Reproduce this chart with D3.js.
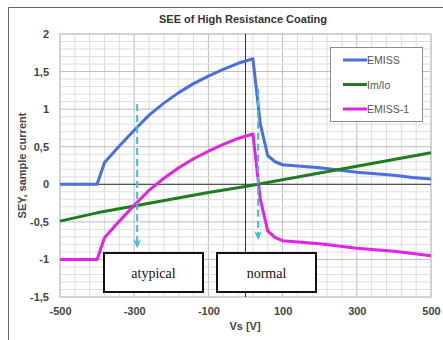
<!DOCTYPE html>
<html>
<head>
<meta charset="utf-8">
<script src="https://cdn.jsdelivr.net/npm/d3@7"></script>
<style type="text/css">
  body{
    margin: 0;
    background: white;
    font-family: 'Liberation Sans', Arial, sans-serif;
  }
</style>
</head>
<body>
<svg id="chart" width="443" height="340"></svg>
<script>

// values
var vs      = [-500, -400, -380, -340, -300, -260, -220, -180, -140, -100, -60, -20, 20, 40, 60, 80, 100, 150, 200, 250, 300, 350, 400, 450, 500];
var emiss   = [0, 0, 0.29, 0.51, 0.72, 0.92, 1.08, 1.22, 1.34, 1.44, 1.53, 1.61, 1.67, 0.80, 0.38, 0.30, 0.26, 0.24, 0.22, 0.19, 0.16, 0.14, 0.12, 0.09, 0.07];
var emiss1  = [-1, -1, -0.71, -0.49, -0.28, -0.08, 0.08, 0.22, 0.34, 0.44, 0.53, 0.61, 0.67, -0.20, -0.62, -0.71, -0.75, -0.77, -0.79, -0.82, -0.85, -0.87, -0.89, -0.92, -0.95];
var imIoVs  = [-500, -400, -300, -200, -100, 0, 100, 200, 300, 400, 500];
var imIo    = [-0.49, -0.38, -0.29, -0.20, -0.11, -0.03, 0.06, 0.15, 0.24, 0.33, 0.42];

var xTicks = [-500, -300, -100, 100, 300, 500];
var yTicks = [-1.5, -1, -0.5, 0, 0.5, 1, 1.5, 2];

var seriesNames  = ["EMISS", "Im/Io", "EMISS-1"];
var seriesColors = ["#4a6fe3", "#1e7d1e", "#e620e6"];

// dashed arrows: x position, start and end value
var arrowVs   = [-292, 34];
var arrowTop  = [1.07, 1.27];
var arrowEnd  = [-0.85, -0.74];

var boxLabels = ["atypical", "normal"];

var svg = d3.select("#chart");

var plotL = 60, plotR = 431, plotT = 34, plotB = 297;

var x = d3.scaleLinear().domain([-500, 500]).range([plotL, plotR]);
var y = d3.scaleLinear().domain([-1.5, 2]).range([plotB, plotT]);

var locale = d3.formatLocale({decimal: ",", thousands: ".", grouping: [3], currency: ["", ""], minus: "-"});
var fmt = locale.format("");

// outer frame (only top and left fall in the picture)
svg.append("path")
  .attr("d", "M8.5,340 L8.5,7.5 L443,7.5")
  .attr("fill", "none")
  .attr("stroke", "#666")
  .attr("stroke-width", 1);

// grid
var gridG = svg.append("g");
d3.range(-500, 501, 40).forEach(function(v) {
  gridG.append("line")
    .attr("x1", x(v)).attr("x2", x(v))
    .attr("y1", plotT).attr("y2", plotB)
    .attr("stroke", (v + 500) % 200 == 0 ? "#bcbcbc" : "#dedede")
    .attr("stroke-width", 1);
});
d3.range(-15, 21, 1).forEach(function(k) {
  var v = k / 10;
  gridG.append("line")
    .attr("x1", plotL).attr("x2", plotR)
    .attr("y1", y(v)).attr("y2", y(v))
    .attr("stroke", k % 5 == 0 ? "#bcbcbc" : "#dedede")
    .attr("stroke-width", 1);
});

// plot border
svg.append("rect")
  .attr("x", plotL).attr("y", plotT)
  .attr("width", plotR - plotL).attr("height", plotB - plotT)
  .attr("fill", "none")
  .attr("stroke", "#c8c8c8");

// zero lines
svg.append("line")
  .attr("x1", x(0)).attr("x2", x(0)).attr("y1", plotT).attr("y2", plotB)
  .attr("stroke", "#333").attr("stroke-width", 1);
svg.append("line")
  .attr("x1", plotL).attr("x2", plotR).attr("y1", y(0)).attr("y2", y(0))
  .attr("stroke", "#333").attr("stroke-width", 1);

// axes (labels only)
var xAxis = svg.append("g")
  .attr("transform", "translate(0," + plotB + ")")
  .call(d3.axisBottom(x).tickValues(xTicks).tickSize(0).tickPadding(10).tickFormat(fmt));
var yAxis = svg.append("g")
  .attr("transform", "translate(" + plotL + ",0)")
  .call(d3.axisLeft(y).tickValues(yTicks).tickSize(0).tickPadding(11).tickFormat(fmt));

[xAxis, yAxis].forEach(function(a) {
  a.select(".domain").remove();
  a.selectAll("text")
    .attr("font-family", "'Liberation Sans', Arial, sans-serif")
    .attr("font-size", 11)
    .attr("font-weight", "bold")
    .attr("fill", "#444");
});

// series
var line = d3.line()
  .x(function(d) { return x(d[0]); })
  .y(function(d) { return y(d[1]); });

var seriesData = [
  d3.zip(vs, emiss),
  d3.zip(imIoVs, imIo),
  d3.zip(vs, emiss1)
];

seriesData.forEach(function(d, i) {
  svg.append("path")
    .datum(d)
    .attr("d", line)
    .attr("fill", "none")
    .attr("stroke", seriesColors[i])
    .attr("stroke-width", 3)
    .attr("stroke-linejoin", "round");
});

// dashed arrows
arrowVs.forEach(function(v, i) {
  var xa = x(v), ya = y(arrowEnd[i]);
  svg.append("line")
    .attr("x1", xa).attr("x2", xa)
    .attr("y1", y(arrowTop[i])).attr("y2", ya - 6)
    .attr("stroke", "#3cbde0")
    .attr("stroke-width", 2)
    .attr("stroke-dasharray", "7,4");
  svg.append("path")
    .attr("d", "M" + (xa - 4) + "," + (ya - 9) +
               " L" + xa + "," + ya +
               " L" + (xa + 4) + "," + (ya - 9) +
               " L" + xa + "," + (ya - 6) + " Z")
    .attr("fill", "#3cbde0");
});

// text boxes
var boxX = [104, 217];
boxLabels.forEach(function(t, i) {
  svg.append("rect")
    .attr("x", boxX[i]).attr("y", 253)
    .attr("width", 99).attr("height", 39)
    .attr("fill", "white")
    .attr("stroke", "#111")
    .attr("stroke-width", 2);
  svg.append("text")
    .attr("x", boxX[i] + 49.5).attr("y", 278)
    .attr("text-anchor", "middle")
    .attr("font-family", "'Liberation Serif', 'Times New Roman', serif")
    .attr("font-size", 14)
    .attr("fill", "#111")
    .text(t);
});

// legend
svg.append("rect")
  .attr("x", 330.5).attr("y", 47.5)
  .attr("width", 92).attr("height", 74)
  .attr("fill", "white")
  .attr("stroke", "#8a8a8a");

seriesNames.forEach(function(n, i) {
  var ly = 60 + i * 24.5;
  svg.append("line")
    .attr("x1", 343).attr("x2", 367)
    .attr("y1", ly).attr("y2", ly)
    .attr("stroke", seriesColors[i])
    .attr("stroke-width", 3);
  svg.append("text")
    .attr("x", 367).attr("y", ly + 4)
    .attr("font-size", 10.5)
    .attr("fill", "#555")
    .text(n);
});

// titles
svg.append("text")
  .attr("x", 243).attr("y", 23)
  .attr("text-anchor", "middle")
  .attr("font-size", 11)
  .attr("font-weight", "bold")
  .attr("fill", "#333")
  .text("SEE of High Resistance Coating");

svg.append("text")
  .attr("x", 245).attr("y", 330)
  .attr("text-anchor", "middle")
  .attr("font-size", 11)
  .attr("font-weight", "bold")
  .attr("fill", "#444")
  .text("Vs [V]");

svg.append("text")
  .attr("transform", "translate(26," + ((plotT + plotB) / 2) + ") rotate(-90)")
  .attr("text-anchor", "middle")
  .attr("font-size", 11)
  .attr("font-weight", "bold")
  .attr("fill", "#444")
  .text("SEY, sample current");

</script>
</body>
</html>
